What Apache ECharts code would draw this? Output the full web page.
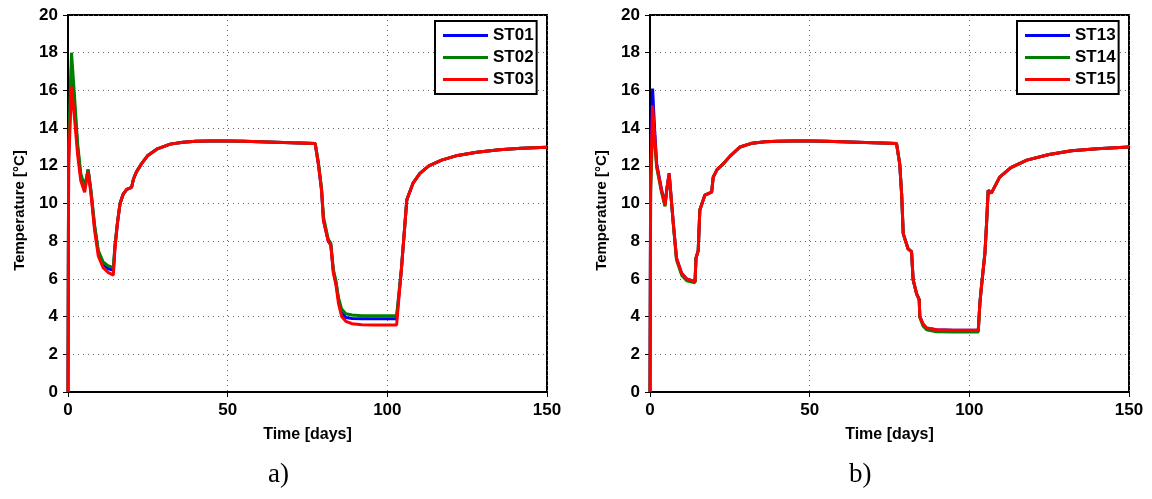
<!DOCTYPE html>
<html>
<head>
<meta charset="utf-8">
<script src="https://cdn.jsdelivr.net/npm/echarts@6/dist/echarts.min.js"></script>
<style>html,body{margin:0;padding:0;background:#fff;}#c{width:1152px;height:499px;}</style>
</head>
<body>
<div id="c"></div>
<script>
// ---- Data ----
var xTicks = [0, 50, 100, 150];
var yTicks = [0, 2, 4, 6, 8, 10, 12, 14, 16, 18, 20];

// Chart a) time [days]
var tA = [0, 0.2, 1.1, 2, 3, 4, 5.2, 6.3, 7.2, 8.3, 9.5, 11, 12.5, 14.2, 14.7, 15.5, 16.3, 17.3, 18.4, 19.9, 20.5, 21.5, 23, 25, 28, 32, 36, 40, 45, 50, 55, 60, 65, 70, 75, 77.4, 78.4, 79.4, 80, 81.5, 82.3, 83.1, 83.9, 84.7, 85.7, 87, 89, 92, 96, 100, 102.9, 104.4, 106.1, 108.1, 110.2, 113, 117, 122, 128, 135, 142, 150];
var ST01 = [0, 12.5, 17.4, 15.3, 13.0, 11.4, 10.8, 11.8, 10.6, 8.8, 7.4, 6.8, 6.55, 6.45, 7.7, 9.0, 10.0, 10.5, 10.75, 10.85, 11.3, 11.7, 12.1, 12.55, 12.9, 13.15, 13.25, 13.3, 13.32, 13.32, 13.3, 13.28, 13.25, 13.22, 13.2, 13.18, 12.1, 10.7, 9.1, 8.0, 7.8, 6.4, 5.8, 4.9, 4.2, 3.95, 3.9, 3.88, 3.88, 3.88, 3.88, 6.5, 10.2, 11.1, 11.6, 12.0, 12.3, 12.55, 12.72, 12.85, 12.93, 12.98];
var ST02 = [0, 13, 18.0, 15.8, 13.2, 11.6, 10.9, 11.8, 10.7, 8.9, 7.5, 6.9, 6.7, 6.6, 7.8, 9.0, 10.0, 10.5, 10.75, 10.85, 11.3, 11.7, 12.1, 12.55, 12.9, 13.15, 13.25, 13.3, 13.32, 13.32, 13.3, 13.28, 13.25, 13.22, 13.2, 13.18, 12.2, 10.8, 9.3, 8.1, 7.9, 6.5, 5.9, 5.0, 4.4, 4.15, 4.08, 4.05, 4.05, 4.05, 4.05, 6.5, 10.2, 11.1, 11.6, 12.0, 12.3, 12.55, 12.72, 12.85, 12.93, 12.98];
var ST03 = [0, 12, 16.2, 14.6, 12.6, 11.2, 10.6, 11.7, 10.5, 8.6, 7.2, 6.6, 6.35, 6.2, 7.6, 9.0, 10.0, 10.5, 10.75, 10.85, 11.3, 11.7, 12.1, 12.55, 12.9, 13.15, 13.25, 13.3, 13.32, 13.32, 13.3, 13.28, 13.25, 13.22, 13.2, 13.18, 12.1, 10.7, 9.1, 8.0, 7.8, 6.3, 5.7, 4.7, 4.0, 3.75, 3.62, 3.57, 3.55, 3.55, 3.55, 6.5, 10.2, 11.1, 11.6, 12.0, 12.3, 12.55, 12.72, 12.85, 12.93, 12.98];

// Chart b) time [days]
var tB = [0, 0.2, 0.8, 1.5, 2.1, 3.6, 4.7, 5.3, 6.0, 7.3, 8.3, 9.9, 11.5, 14.1, 14.4, 15.1, 15.6, 17.2, 19.3, 19.8, 21, 22.9, 25, 28.2, 32, 36, 40, 45, 50, 55, 60, 65, 70, 75, 77.2, 78.2, 78.8, 79.3, 80.8, 81.9, 82.4, 83.5, 84.3, 84.5, 85.5, 86.6, 89.7, 95, 100, 102.8, 103.3, 103.8, 104.9, 105.4, 105.9, 106.9, 109.5, 113, 118, 125, 132, 140, 150];
var ST13 = [0, 12, 16.1, 13.8, 12.1, 10.75, 9.95, 10.8, 11.6, 8.95, 7.1, 6.3, 6.0, 5.85, 7.1, 7.5, 9.65, 10.45, 10.6, 11.4, 11.8, 12.1, 12.5, 13.0, 13.2, 13.28, 13.3, 13.32, 13.32, 13.3, 13.28, 13.25, 13.22, 13.2, 13.18, 12.1, 10.5, 8.4, 7.6, 7.45, 5.95, 5.2, 4.9, 4.0, 3.6, 3.4, 3.3, 3.28, 3.28, 3.28, 4.7, 5.6, 7.4, 8.95, 10.7, 10.55, 11.4, 11.9, 12.3, 12.6, 12.8, 12.9, 13.0];
var ST14 = [0, 10.5, 14.0, 13.2, 11.9, 10.6, 9.85, 10.8, 11.5, 8.9, 7.0, 6.2, 5.9, 5.8, 7.1, 7.5, 9.65, 10.45, 10.6, 11.4, 11.8, 12.1, 12.5, 13.0, 13.2, 13.28, 13.3, 13.32, 13.32, 13.3, 13.28, 13.25, 13.22, 13.2, 13.18, 12.1, 10.5, 8.4, 7.6, 7.45, 5.95, 5.2, 4.9, 3.95, 3.5, 3.3, 3.2, 3.18, 3.18, 3.18, 4.7, 5.6, 7.4, 8.95, 10.7, 10.55, 11.4, 11.9, 12.3, 12.6, 12.8, 12.9, 13.0];
var ST15 = [0, 11, 15.2, 13.5, 12.0, 10.7, 9.9, 10.8, 11.6, 8.95, 7.1, 6.3, 6.0, 5.85, 7.1, 7.5, 9.65, 10.45, 10.6, 11.4, 11.8, 12.1, 12.5, 13.0, 13.2, 13.28, 13.3, 13.32, 13.32, 13.3, 13.28, 13.25, 13.22, 13.2, 13.18, 12.1, 10.5, 8.4, 7.6, 7.45, 5.95, 5.2, 4.9, 4.0, 3.6, 3.4, 3.3, 3.28, 3.28, 3.28, 4.7, 5.6, 7.4, 8.95, 10.7, 10.55, 11.4, 11.9, 12.3, 12.6, 12.8, 12.9, 13.0];

var namesA = ['ST01', 'ST02', 'ST03'];
var namesB = ['ST13', 'ST14', 'ST15'];
var colors = ['#0000ff', '#008000', '#ff0000'];
var xName = 'Time [days]';
var yName = 'Temperature [°C]';
var captions = ['a)', 'b)'];

// ---- Build option ----
function pairs(t, v) { return t.map(function (x, i) { return [x, v[i]]; }); }
var font = 'Liberation Sans, Arial, sans-serif';
var grids = [
  { left: 68, top: 15, width: 479, height: 377 },
  { left: 650, top: 15, width: 479, height: 377 }
];
grids.forEach(function (g) { g.show = true; g.borderColor = '#000'; g.borderWidth = 2; g.backgroundColor = 'transparent'; });

function xAx(i) {
  return {
    gridIndex: i, type: 'value', min: xTicks[0], max: xTicks[xTicks.length - 1], interval: xTicks[1] - xTicks[0],
    name: xName, nameLocation: 'middle', nameGap: 35,
    nameTextStyle: { fontFamily: font, fontWeight: 'bold', fontSize: 16, color: '#000' },
    axisLine: { show: true, lineStyle: { color: '#000', width: 2 } },
    axisTick: { show: true, length: 5, lineStyle: { color: '#000', width: 1 } },
    axisLabel: { fontFamily: font, fontWeight: 'bold', fontSize: 17, color: '#000', margin: 10 },
    splitLine: { show: true, lineStyle: { color: '#666', width: 1, type: [1, 4] } }
  };
}
function yAx(i) {
  return {
    gridIndex: i, type: 'value', min: yTicks[0], max: yTicks[yTicks.length - 1], interval: yTicks[1] - yTicks[0],
    name: yName, nameLocation: 'middle', nameGap: 41, nameRotate: 90,
    nameTextStyle: { fontFamily: font, fontWeight: 'bold', fontSize: 15, color: '#000', padding: [0, 14, 0, 0] },
    axisLine: { show: true, lineStyle: { color: '#000', width: 2 } },
    axisTick: { show: true, length: 5, lineStyle: { color: '#000', width: 1 } },
    axisLabel: { fontFamily: font, fontWeight: 'bold', fontSize: 17, color: '#000', margin: 10 },
    splitLine: { show: true, lineStyle: { color: '#666', width: 1, type: [1, 4] } }
  };
}

var series = [];
[[tA, [ST01, ST02, ST03], namesA], [tB, [ST13, ST14, ST15], namesB]].forEach(function (set, gi) {
  set[1].forEach(function (vals, k) {
    series.push({
      name: set[2][k], type: 'line', xAxisIndex: gi, yAxisIndex: gi,
      data: pairs(set[0], vals), showSymbol: false, symbol: 'none',
      lineStyle: { color: colors[k], width: 3 }, itemStyle: { color: colors[k] },
      z: 2 + k
    });
  });
});

function legend(names, left) {
  return {
    data: names.map(function (n) { return { name: n, icon: 'rect' }; }),
    orient: 'vertical', left: left, top: 21,
    itemWidth: 45, itemHeight: 3, itemGap: 5,
    padding: [6, 3, 6, 8],
    borderColor: '#000', borderWidth: 2, backgroundColor: '#fff',
    textStyle: { fontFamily: font, fontWeight: 'bold', fontSize: 17, color: '#000', lineHeight: 17, padding: [0, 0, 0, 0] },
    selectedMode: false
  };
}

var option = {
  animation: false,
  backgroundColor: '#fff',
  grid: grids,
  xAxis: [xAx(0), xAx(1)],
  yAxis: [yAx(0), yAx(1)],
  legend: [legend(namesA, 435), legend(namesB, 1017)],
  series: series,
  graphic: [
    { type: 'text', left: 268, top: 461, style: { text: captions[0], fontFamily: 'Liberation Serif, Times New Roman, serif', fontSize: 27, fill: '#000' } },
    { type: 'text', left: 849, top: 461, style: { text: captions[1], fontFamily: 'Liberation Serif, Times New Roman, serif', fontSize: 27, fill: '#000' } }
  ]
};
var chart = echarts.init(document.getElementById('c'), null, { renderer: 'canvas' });
chart.setOption(option);
</script>
</body>
</html>
